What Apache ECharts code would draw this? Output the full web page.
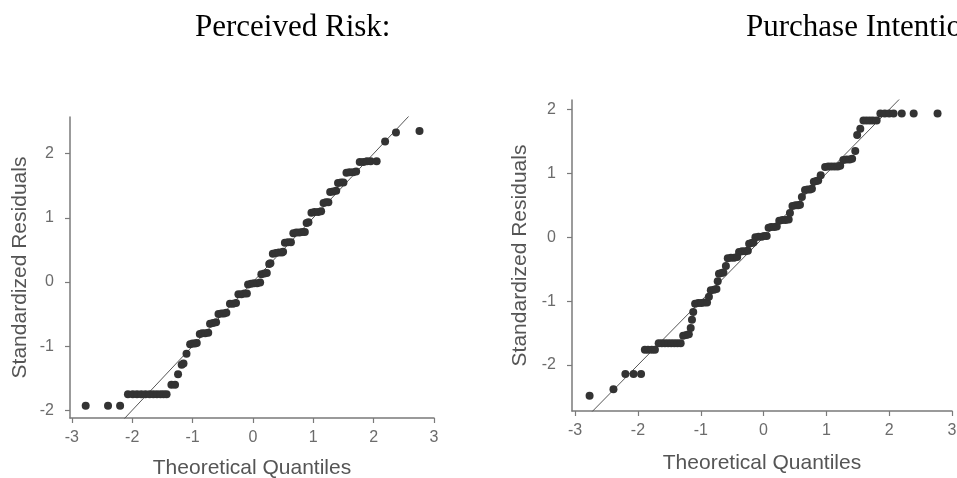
<!DOCTYPE html>
<html>
<head>
<meta charset="utf-8">
<script src="https://cdn.jsdelivr.net/npm/echarts@6/dist/echarts.min.js"></script>
<style>
html,body{margin:0;padding:0;background:#fff;}
#chart{width:957px;height:478px;}
</style>
</head>
<body>
<div id="chart"></div>
<script>
// ---- Data ----
var titleLeft = 'Perceived Risk:';
var titleRight = 'Purchase Intention:';
var xAxisName = 'Theoretical Quantiles';
var yAxisName = 'Standardized Residuals';
var xTicks = [-3, -2, -1, 0, 1, 2, 3];
var yTicks = [-2, -1, 0, 1, 2];

var leftX = [-2.77,-2.40,-2.20,
  -2.07,-1.99,-1.92,-1.85,-1.78,-1.71,-1.65,-1.59,-1.53,-1.48,-1.43,
  -1.35,-1.29,-1.24,-1.18,-1.15,-1.10,
  -1.04,-1.00,-0.96,-0.93,
  -0.88,-0.84,-0.79,-0.74,
  -0.71,-0.66,-0.61,
  -0.57,-0.52,-0.48,-0.44,
  -0.38,-0.33,-0.28,
  -0.24,-0.19,-0.14,-0.10,
  -0.08,-0.03,0.02,0.07,0.12,
  0.14,0.19,0.23,
  0.27,0.29,
  0.33,0.38,0.43,0.48,0.50,
  0.53,0.58,0.63,
  0.67,0.72,0.77,0.82,0.86,
  0.89,0.92,
  0.97,1.02,1.08,1.13,
  1.17,1.21,1.25,
  1.28,1.33,1.38,
  1.41,1.46,1.50,
  1.55,1.60,1.66,1.71,
  1.77,1.83,1.89,1.95,2.05,
  2.19,2.37,2.76];
var leftY = [-1.93,-1.93,-1.93,
  -1.75,-1.75,-1.75,-1.75,-1.75,-1.75,-1.75,-1.75,-1.75,-1.75,-1.75,
  -1.60,-1.60,-1.44,-1.29,-1.27,-1.12,
  -0.97,-0.96,-0.96,-0.95,
  -0.81,-0.80,-0.80,-0.79,
  -0.65,-0.64,-0.63,
  -0.50,-0.49,-0.49,-0.48,
  -0.34,-0.34,-0.33,
  -0.19,-0.19,-0.18,-0.18,
  -0.04,-0.03,-0.02,-0.02,-0.01,
  0.12,0.13,0.14,
  0.28,0.29,
  0.44,0.45,0.46,0.46,0.47,
  0.61,0.62,0.62,
  0.76,0.77,0.77,0.78,0.78,
  0.92,0.93,
  1.08,1.09,1.09,1.10,
  1.23,1.24,1.24,
  1.40,1.41,1.42,
  1.54,1.55,1.55,
  1.70,1.71,1.71,1.72,
  1.87,1.87,1.88,1.88,1.88,
  2.19,2.33,2.35];

var rightX = [-2.77,-2.39,
  -2.20,-2.07,-1.95,
  -1.89,-1.84,-1.78,-1.73,
  -1.67,-1.62,-1.57,-1.52,-1.47,-1.42,-1.37,-1.32,
  -1.28,-1.23,-1.19,
  -1.16,-1.14,-1.12,
  -1.09,-1.04,-0.99,-0.94,-0.90,
  -0.87,
  -0.84,-0.79,-0.75,
  -0.73,
  -0.71,-0.67,-0.64,
  -0.60,
  -0.57,-0.52,-0.47,-0.42,
  -0.39,-0.34,-0.29,-0.25,
  -0.23,-0.19,-0.16,
  -0.13,-0.08,-0.03,0.01,0.05,
  0.08,0.12,0.17,0.21,
  0.25,0.30,0.35,0.40,
  0.42,
  0.46,0.51,0.55,0.58,
  0.61,
  0.66,0.70,0.74,0.77,
  0.80,0.84,0.87,
  0.91,
  0.98,1.03,1.08,1.13,1.18,1.22,
  1.27,1.32,1.37,1.41,
  1.46,1.49,1.54,
  1.59,1.64,1.69,1.74,1.80,
  1.86,1.93,2.00,2.07,
  2.20,2.39,2.77];
var rightY = [-2.48,-2.38,
  -2.14,-2.14,-2.14,
  -1.76,-1.76,-1.76,-1.76,
  -1.66,-1.66,-1.66,-1.66,-1.66,-1.66,-1.66,-1.66,
  -1.54,-1.53,-1.52,
  -1.42,-1.29,-1.17,
  -1.04,-1.03,-1.03,-1.02,-1.02,
  -0.93,
  -0.83,-0.82,-0.81,
  -0.69,
  -0.57,-0.56,-0.55,
  -0.45,
  -0.33,-0.32,-0.32,-0.31,
  -0.23,-0.22,-0.22,-0.21,
  -0.10,-0.09,-0.08,
  0.00,0.01,0.01,0.02,0.02,
  0.15,0.16,0.16,0.17,
  0.26,0.27,0.27,0.28,
  0.38,
  0.49,0.50,0.50,0.51,
  0.63,
  0.74,0.75,0.75,0.76,
  0.87,0.88,0.89,
  0.97,
  1.10,1.11,1.11,1.11,1.11,1.12,
  1.21,1.22,1.22,1.23,
  1.35,1.60,1.70,
  1.83,1.83,1.83,1.83,1.83,
  1.94,1.94,1.94,1.94,
  1.94,1.94,1.94];

// reference line y = x (clipped to the plot area)
var refLine = [-3.5, 3.5];

// ---- Build ----
function zip(xs, ys) { return xs.map(function (x, i) { return [x, ys[i]]; }); }
function lineData(r) { return r.map(function (v) { return [v, v]; }); }

var FONT = "'Liberation Sans', Arial, Helvetica, sans-serif";
var SERIF = "31px 'Liberation Serif', 'Times New Roman', serif";
var axisCol = '#7a7a7a';

function xAxisCfg(idx, min, max, gap) {
  return {
    type: 'value', gridIndex: idx, min: min, max: max,
    name: xAxisName, nameLocation: 'middle', nameGap: gap, nameMoveOverlap: false,
    nameTextStyle: { color: '#555', fontSize: 21, fontFamily: FONT },
    axisLine: { show: true, onZero: false, lineStyle: { color: axisCol, width: 1.5 } },
    axisTick: { show: true, length: 5, lineStyle: { color: axisCol, width: 1.2 }, customValues: xTicks },
    axisLabel: { color: '#6b6b6b', fontSize: 16, fontFamily: FONT, margin: 12, customValues: xTicks },
    splitLine: { show: false }
  };
}
function yAxisCfg(idx, min, max, gap) {
  return {
    type: 'value', gridIndex: idx, min: min, max: max,
    name: yAxisName, nameLocation: 'middle', nameGap: gap, nameMoveOverlap: false,
    nameTextStyle: { color: '#555', fontSize: 21, fontFamily: FONT },
    axisLine: { show: true, onZero: false, lineStyle: { color: axisCol, width: 1.5 } },
    axisTick: { show: true, length: 5, lineStyle: { color: axisCol, width: 1.2 }, customValues: yTicks },
    axisLabel: { color: '#6b6b6b', fontSize: 16, fontFamily: FONT, margin: 16, customValues: yTicks },
    splitLine: { show: false }
  };
}

var chart = echarts.init(document.getElementById('chart'), null, { renderer: 'canvas' });
chart.setOption({
  backgroundColor: '#ffffff',
  animation: false,
  graphic: [
    { type: 'text', x: 195, y: 28,
      style: { text: titleLeft, fill: '#000', font: SERIF, textAlign: 'left', verticalAlign: 'middle' } },
    { type: 'text', x: 746, y: 28,
      style: { text: titleRight, fill: '#000', font: SERIF, textAlign: 'left', verticalAlign: 'middle' } }
  ],
  grid: [
    { left: 70, top: 117, width: 364, height: 301, containLabel: false, outerBoundsMode: 'none' },
    { left: 572, top: 100, width: 380, height: 311, containLabel: false, outerBoundsMode: 'none' }
  ],
  xAxis: [ xAxisCfg(0, -3.03, 3, 40), xAxisCfg(1, -3.05, 3, 42) ],
  yAxis: [ yAxisCfg(0, -2.12, 2.57, 39), yAxisCfg(1, -2.72, 2.15, 41) ],
  series: [
    { type: 'line', xAxisIndex: 0, yAxisIndex: 0, data: lineData(refLine), clip: true,
      showSymbol: false, symbol: 'none', lineStyle: { color: '#555', width: 1 }, z: 1 },
    { type: 'scatter', xAxisIndex: 0, yAxisIndex: 0, data: zip(leftX, leftY), clip: true,
      symbol: 'circle', symbolSize: 8, itemStyle: { color: '#333', opacity: 1 }, z: 2 },
    { type: 'line', xAxisIndex: 1, yAxisIndex: 1, data: lineData(refLine), clip: true,
      showSymbol: false, symbol: 'none', lineStyle: { color: '#555', width: 1 }, z: 1 },
    { type: 'scatter', xAxisIndex: 1, yAxisIndex: 1, data: zip(rightX, rightY), clip: true,
      symbol: 'circle', symbolSize: 8, itemStyle: { color: '#333', opacity: 1 }, z: 2 }
  ]
});
</script>
</body>
</html>
